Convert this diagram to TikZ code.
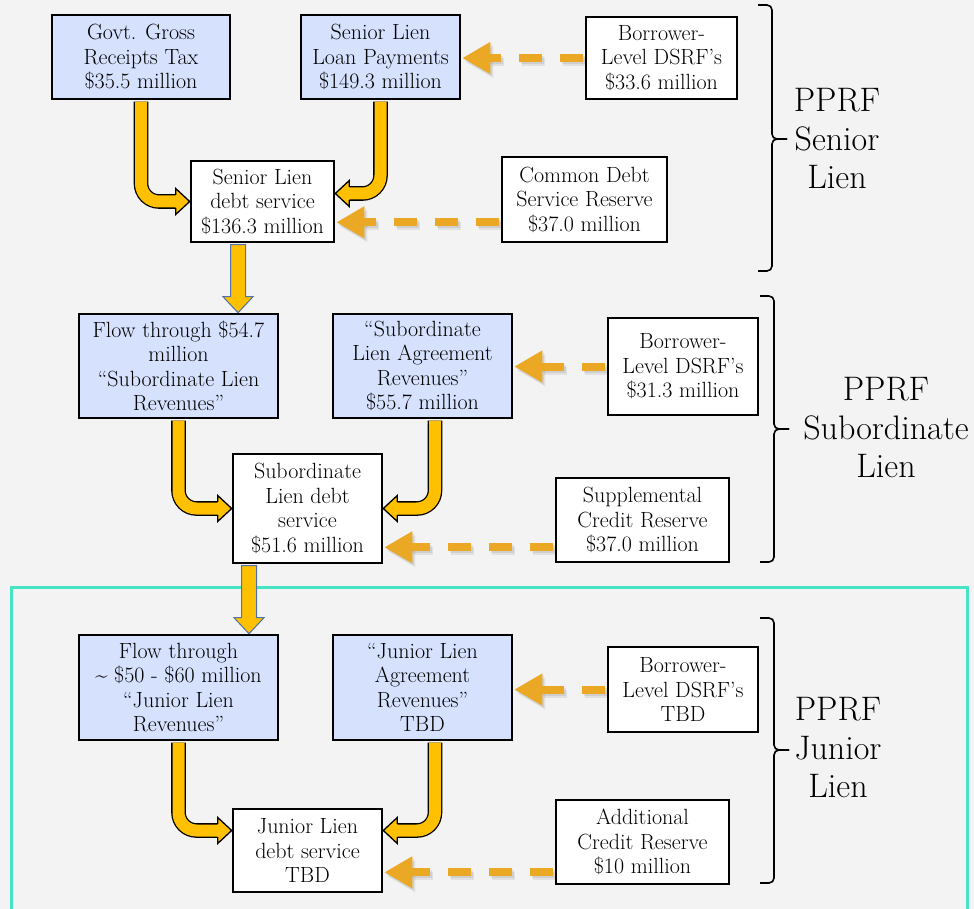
\documentclass[tikz,border=0pt]{standalone}
\usepackage{fontspec}
\usetikzlibrary{arrows.meta,calc}

\definecolor{pagegray}{RGB}{243,243,243}
\definecolor{boxblue}{RGB}{213,225,253}
\definecolor{flowyellow}{RGB}{255,192,0}
\definecolor{reserveorange}{RGB}{234,168,36}
\definecolor{framegreen}{RGB}{70,228,194}
\definecolor{edgeblue}{RGB}{79,115,168}

\newcommand{\boxfont}{\fontsize{22}{24.5}\selectfont}
\newcommand{\lienfont}{\fontsize{34}{38.5}\selectfont}

% head of a bent flow arrow, tip at #1, pointing right (1) or left (-1)
\newcommand{\flowhead}[2]{%
  \fill[flowyellow] ($(#1)+({-14*(#2)},-6.65)$) -- ($(#1)+({-14*(#2)},-13)$) -- (#1)
    -- ($(#1)+({-14*(#2)},13)$) -- ($(#1)+({-14*(#2)},6.65)$) -- cycle;
  \draw[line width=1.3pt, line join=miter] ($(#1)+({-14*(#2)},-6.65)$) -- ($(#1)+({-14*(#2)},-13)$)
    -- (#1) -- ($(#1)+({-14*(#2)},13)$) -- ($(#1)+({-14*(#2)},6.65)$);
}

% straight arrow down from #1 to the box #2
\newcommand{\droparrow}[2]{%
  \coordinate (droptip) at (#1 |- #2);
  \draw[line width=1pt, draw=edgeblue, fill=flowyellow, line join=miter]
    ($(#1)+(-7.5,0)$) -- ($(droptip)+(-7.5,-16)$) -- ($(droptip)+(-15,-16)$) -- (droptip)
    -- ($(droptip)+(15,-16)$) -- ($(droptip)+(7.5,-16)$) -- ($(#1)+(7.5,0)$) -- cycle;
}

% dashed reserve arrow with its shadow
\newcommand{\reserveline}[2]{%
  \draw[reserve, draw=black, opacity=0.07, transform canvas={shift={(3pt,-4pt)}}] (#1) -- (#2);
  \draw[reserve, draw=black, opacity=0.08, transform canvas={shift={(1.5pt,-2pt)}}] (#1) -- (#2);
  \draw[reserve] (#1) -- (#2);
}

% bracket round one lien: x, top, bottom, middle
\newcommand{\lienbracket}[4]{%
  \draw[line width=1.6pt, rounded corners=5pt] (#1,#2) -- ({#1+14},#2) -- ({#1+14},#4) -- ({#1+29},#4);
  \draw[line width=1.6pt, rounded corners=5pt] (#1,#3) -- ({#1+14},#3) -- ({#1+14},#4) -- ({#1+29},#4);
}

\tikzset{
  srcbox/.style={draw, line width=2.6pt, fill=boxblue, align=center, font=\boxfont, inner sep=0pt},
  outbox/.style={srcbox, fill=white},
  lienlabel/.style={align=center, font=\lienfont, inner sep=0pt},
  flow/.style={double=flowyellow, double distance=12pt, line width=1.3pt, rounded corners=18pt,
    shorten <=1.3pt, shorten >=13.5pt},
  reserve/.style={draw=reserveorange, line width=8pt, dash pattern=on 23pt off 18pt,
    -{Triangle[length=28pt,width=30pt]}, shorten <=1.5pt, shorten >=1pt}
}

\begin{document}
\begin{tikzpicture}[x=1pt, y=-1pt]

% Page
\useasboundingbox (0,0) rectangle (974,909);
\clip (0,0) rectangle (974,909);
\fill[pagegray] (0,0) rectangle (974,909);

% Junior lien frame
\draw[framegreen, line width=3pt] (11,587) rectangle (967,930);

% Senior lien
\node[srcbox, minimum width=178pt, minimum height=84pt] (govt) at (141,57) {Govt. Gross\\Receipts Tax\\\$35.5 million};
\node[srcbox, minimum width=159pt, minimum height=84pt] (srloan) at (380.5,57) {Senior Lien\\Loan Payments\\\$149.3 million};
\node[outbox, minimum width=151pt, minimum height=82pt] (brw1) at (661.5,58) {Borrower-\\Level DSRF's\\\$33.6 million};
\node[outbox, minimum width=143pt, minimum height=81pt] (srdebt) at (262.5,201.5) {Senior Lien\\debt service\\\$136.3 million};
\node[outbox, minimum width=165pt, minimum height=85pt] (cdsr) at (584.5,199.5) {Common Debt\\Service Reserve\\\$37.0 million};
\node[lienlabel] (srlabel) at (837,139) {PPRF\\Senior\\Lien};
\lienbracket{758}{5}{271}{139}

% Subordinate lien
\node[srcbox, minimum width=199pt, minimum height=104pt] (flow1) at (178.5,366) {Flow through \$54.7\\million\\``Subordinate Lien\\Revenues''};
\node[srcbox, minimum width=179pt, minimum height=104pt] (subagr) at (422.5,366) {``Subordinate\\Lien Agreement\\Revenues''\\\$55.7 million};
\node[outbox, minimum width=150pt, minimum height=97pt] (brw2) at (683,366.5) {Borrower-\\Level DSRF's\\\$31.3 million};
\node[outbox, minimum width=149pt, minimum height=109pt] (subdebt) at (307.5,508.5) {Subordinate\\Lien debt\\service\\\$51.6 million};
\node[outbox, minimum width=173pt, minimum height=84pt] (supp) at (642.5,520) {Supplemental\\Credit Reserve\\\$37.0 million};
\node[lienlabel] (sublabel) at (886,428) {PPRF\\Subordinate\\Lien};
\lienbracket{760}{296}{562}{429}

% Junior lien
\node[srcbox, minimum width=199pt, minimum height=105pt] (flow2) at (178.5,687.5) {Flow through\\\textasciitilde{} \$50 - \$60 million\\``Junior Lien\\Revenues''};
\node[srcbox, minimum width=179pt, minimum height=105pt] (jragr) at (422.5,687.5) {``Junior Lien\\Agreement\\Revenues''\\TBD};
\node[outbox, minimum width=150pt, minimum height=85pt] (brw3) at (683,689.5) {Borrower-\\Level DSRF's\\TBD};
\node[outbox, minimum width=149pt, minimum height=83pt] (jrdebt) at (307.5,850.5) {Junior Lien\\debt service\\TBD};
\node[outbox, minimum width=173pt, minimum height=84pt] (addl) at (642.5,842) {Additional\\Credit Reserve\\\$10 million};
\node[lienlabel] (jrlabel) at (838,748) {PPRF\\Junior\\Lien};
\lienbracket{760}{618}{883}{750}

% Flows into the debt service boxes
\coordinate (srin2) at ([yshift=8pt]srdebt.east);
\draw[flow] (govt.south) |- (srdebt.west);
\flowhead{srdebt.west}{1}
\draw[flow] (srloan.south) |- (srin2);
\flowhead{srin2}{-1}

\coordinate (subout2) at ([xshift=12.5pt]subagr.south);
\draw[flow] (flow1.south) |- (subdebt.west);
\flowhead{subdebt.west}{1}
\draw[flow] (subout2) |- (subdebt.east);
\flowhead{subdebt.east}{-1}

\coordinate (jrin1) at ([yshift=20pt]jrdebt.west);
\coordinate (jrin2) at ([yshift=20pt]jrdebt.east);
\coordinate (jrout2) at ([xshift=12.5pt]jragr.south);
\draw[flow] (flow2.south) |- (jrin1);
\flowhead{jrin1}{1}
\draw[flow] (jrout2) |- (jrin2);
\flowhead{jrin2}{-1}

% Flow down to the next lien
\coordinate (drop1) at ([xshift=-24.5pt,yshift=-1.3pt]srdebt.south);
\droparrow{drop1}{flow1.north}
\coordinate (drop2) at ([xshift=-58.5pt,yshift=-1.3pt]subdebt.south);
\droparrow{drop2}{flow2.north}

% Reserves
\reserveline{brw1.west}{brw1.west -| srloan.east}
\coordinate (cdsrout) at ([yshift=21pt]cdsr.south west);
\reserveline{cdsrout}{cdsrout -| srdebt.east}
\reserveline{brw2.west}{brw2.west -| subagr.east}
\coordinate (suppout) at ([yshift=16pt]supp.south west);
\reserveline{suppout}{suppout -| subdebt.east}
\reserveline{brw3.west}{brw3.west -| jragr.east}
\coordinate (addlout) at ([yshift=13pt]addl.south west);
\reserveline{addlout}{addlout -| jrdebt.east}

\end{tikzpicture}
\end{document}
